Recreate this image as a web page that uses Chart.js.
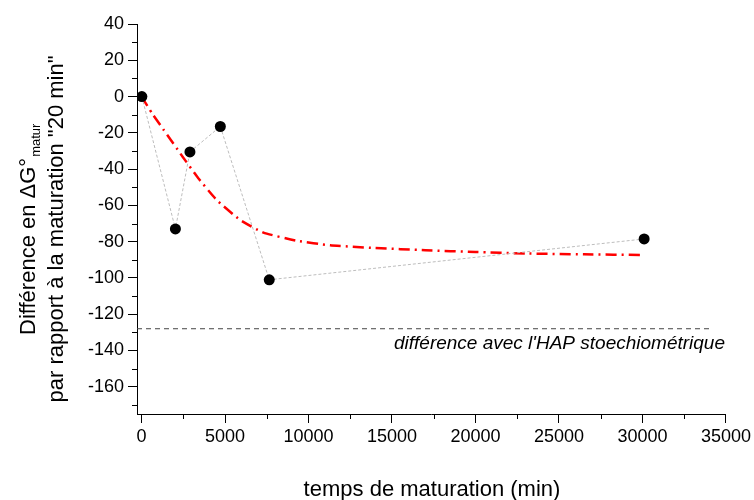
<!DOCTYPE html>
<html>
<head>
<meta charset="utf-8">
<script src="https://cdn.jsdelivr.net/npm/chart.js@4/dist/chart.umd.min.js"></script>
<style>
  html, body { margin: 0; padding: 0; background: #fff; }
  #wrap { width: 754px; height: 500px; }
</style>
</head>
<body>
<div id="wrap"><canvas id="myChart"></canvas></div>
<script>
// mesures
var tempsMin = [20, 2030, 2900, 4720, 7650, 30100];
var diffG = [0, -73, -30.5, -16.5, -101, -78.5];

// courbe ajustée
var fitX = [0, 650, 1300, 2450, 3400, 4500, 5900, 7300, 9300, 11300, 14000, 17000, 20000, 23000, 26500, 30000];
var fitY = [0, -9.5, -18, -33, -45, -57, -68, -75, -79.5, -82, -83.5, -84.7, -85.7, -86.5, -87, -87.3];

// différence avec l'HAP stoechiométrique
var refX = [-270, 34220];
var refY = [-128, -128];

var xTicks = [0, 5000, 10000, 15000, 20000, 25000, 30000, 35000];
var xMinor = [2500, 7500, 12500, 17500, 22500, 27500, 32500];
var yTicks = [40, 20, 0, -20, -40, -60, -80, -100, -120, -140, -160];
var yMinor = [30, 10, -10, -30, -50, -70, -90, -110, -130, -150, -170];

function pts(xs, ys) {
  return xs.map(function (x, i) { return { x: x, y: ys[i] }; });
}

var FONT = 'Arial, "Liberation Sans", sans-serif';

var extras = {
  id: 'extras',
  afterDraw: function (chart) {
    var ctx = chart.ctx;
    var xs = chart.scales.x, ys = chart.scales.y;
    ctx.save();
    // petites graduations
    ctx.strokeStyle = '#000';
    ctx.lineWidth = 1;
    ctx.beginPath();
    xMinor.forEach(function (v) {
      var px = Math.round(xs.getPixelForValue(v)) + 0.5;
      ctx.moveTo(px, ys.bottom);
      ctx.lineTo(px, ys.bottom + 5);
    });
    yMinor.forEach(function (v) {
      var py = Math.round(ys.getPixelForValue(v)) + 0.5;
      ctx.moveTo(xs.left, py);
      ctx.lineTo(xs.left - 5, py);
    });
    ctx.stroke();

    // légende du trait pointillé
    ctx.fillStyle = '#000';
    ctx.font = 'italic 19px ' + FONT;
    ctx.textAlign = 'right';
    ctx.textBaseline = 'alphabetic';
    ctx.fillText("différence avec l'HAP stoechiométrique", 725, 349);

    // titre axe x
    ctx.font = '22px ' + FONT;
    ctx.textAlign = 'center';
    ctx.fillText('temps de maturation (min)', 432, 496);

    // titre axe y (deux lignes)
    ctx.translate(35, 335);
    ctx.rotate(-Math.PI / 2);
    ctx.textAlign = 'left';
    var l1 = 'Différence en \u0394G°';
    ctx.fillText(l1, 0, 0);
    var w = ctx.measureText(l1).width;
    ctx.font = '13px ' + FONT;
    ctx.fillText('matur', w + 1, 5);
    ctx.font = '22px ' + FONT;
    ctx.textAlign = 'center';
    ctx.fillText('par rapport à la maturation "20 min"', 335 - 229, 28);
    ctx.restore();
  }
};

var ctx = document.getElementById('myChart').getContext('2d');
var MaturChart = new Chart(ctx, {
  type: 'scatter',
  data: {
    datasets: [{
      label: 'référence',
      data: pts(refX, refY),
      showLine: true,
      borderColor: '#444',
      borderWidth: 1,
      borderDash: [5, 4],
      pointRadius: 0
    }, {
      label: 'mesures',
      data: pts(tempsMin, diffG),
      showLine: true,
      borderColor: '#bdbdbd',
      borderWidth: 1,
      borderDash: [3, 2],
      pointRadius: 5.5,
      pointBackgroundColor: '#000',
      pointBorderColor: '#000',
      pointBorderWidth: 0
    }, {
      label: 'ajustement',
      data: pts(fitX, fitY),
      showLine: true,
      borderColor: '#ff0000',
      borderWidth: 2.5,
      borderDash: [11, 5, 2, 5],
      tension: 0.15,
      pointRadius: 0
    }]
  },
  options: {
    responsive: true,
    maintainAspectRatio: false,
    animation: false,
    layout: { padding: { top: 24, right: 27, left: 0, bottom: 0 } },
    plugins: {
      legend: { display: false },
      tooltip: { enabled: false }
    },
    scales: {
      x: {
        type: 'linear',
        min: -270,
        max: 35000,
        afterFit: function (s) { s.height = 86; },
        afterBuildTicks: function (s) { s.ticks = xTicks.map(function (v) { return { value: v }; }); },
        grid: { display: true, drawOnChartArea: false, drawTicks: true, tickLength: 9, color: '#000', tickColor: '#000' },
        border: { display: true, color: '#000', width: 1 },
        ticks: {
          color: '#000', font: { size: 18, family: FONT }, padding: 3, maxRotation: 0, autoSkip: false,
          callback: function (v) { return String(v); }
        }
      },
      y: {
        type: 'linear',
        min: -175,
        max: 40,
        afterFit: function (s) { s.width = 137; },
        afterBuildTicks: function (s) { s.ticks = yTicks.map(function (v) { return { value: v }; }); },
        grid: { display: true, drawOnChartArea: false, drawTicks: true, tickLength: 9, color: '#000', tickColor: '#000' },
        border: { display: true, color: '#000', width: 1 },
        ticks: {
          color: '#000', font: { size: 18, family: FONT }, padding: 4, autoSkip: false,
          callback: function (v) { return String(v); }
        }
      }
    }
  },
  plugins: [extras]
});
</script>
</body>
</html>
